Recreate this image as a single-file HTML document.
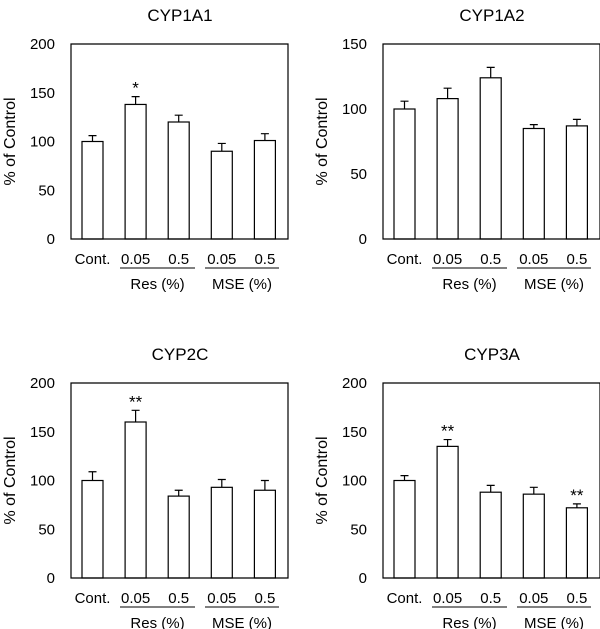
<!DOCTYPE html>
<html><head><meta charset="utf-8"><style>
html,body{margin:0;padding:0;background:#fff}
svg{display:block}
text{font-family:"Liberation Sans",Arial,sans-serif;fill:#000}
</style></head><body>
<svg id="fig" width="600" height="629" viewBox="0 0 600 629"></svg>
<script>
const categories = ["Cont.", "0.05", "0.5", "0.05", "0.5"];
const groupLabels = ["Res (%)", "MSE (%)"];
const titles = ["CYP1A1", "CYP1A2", "CYP2C", "CYP3A"];
const yMaxes = [200, 150, 200, 200];
const ticks200 = [0, 50, 100, 150, 200];
const ticks150 = [0, 50, 100, 150];
const means1A1 = [100, 138, 120, 90, 101];
const errs1A1 = [6, 8, 7, 8, 7];
const stars1A1 = ["", "*", "", "", ""];
const means1A2 = [100, 108, 124, 85, 87];
const errs1A2 = [6, 8, 8, 3, 5];
const stars1A2 = ["", "", "", "", ""];
const means2C = [100, 160, 84, 93, 90];
const errs2C = [9, 12, 6, 8, 10];
const stars2C = ["", "**", "", "", ""];
const means3A = [100, 135, 88, 86, 72];
const errs3A = [5, 7, 7, 7, 4];
const stars3A = ["", "**", "", "", "**"];

const NS = "http://www.w3.org/2000/svg";
const svg = document.getElementById("fig");
function mk(tag, attrs, parent, txt) {
  const e = document.createElementNS(NS, tag);
  for (const k in attrs) e.setAttribute(k, attrs[k]);
  if (txt !== undefined) e.textContent = txt;
  parent.appendChild(e);
  return e;
}
const panels = [
  {ox: 0, oy: 0, means: means1A1, errs: errs1A1, stars: stars1A1, ticks: ticks200},
  {ox: 312, oy: 0, means: means1A2, errs: errs1A2, stars: stars1A2, ticks: ticks150},
  {ox: 0, oy: 339, means: means2C, errs: errs2C, stars: stars2C, ticks: ticks200},
  {ox: 312, oy: 339, means: means3A, errs: errs3A, stars: stars3A, ticks: ticks200}
];
panels.forEach((p, pi) => {
  const g = mk("g", {transform: `translate(${p.ox},${p.oy})`}, svg);
  
  
  const L = 71, R = 288, T = 44, B = 239;
  const yMax = yMaxes[pi];
  const y = v => B - (v / yMax) * (B - T);
  const xc = i => 92.5 + i * 43.1;
  const t = mk("text", {x: 180, y: 21, "text-anchor": "middle", "font-size": 17}, g, titles[pi]);
  
  
  const yt = mk("text", {x: 0, y: 0, "text-anchor": "middle", "font-size": 16, transform: `translate(15,${(T + B) / 2}) rotate(-90)`}, g, "% of Control");
  
  
  p.ticks.forEach(tv => {
    const tl = mk("text", {x: 55, y: y(tv) + 5, "text-anchor": "end", "font-size": 15}, g, String(tv));
    
    
  });
  p.means.forEach((m, i) => {
    const bw = 21, cx = xc(i);
    const bar = mk("rect", {x: cx - bw / 2, y: y(m), width: bw, height: B - y(m), fill: "#fff", stroke: "#000", "stroke-width": 1.2}, g);
    
    
    const top = y(m + p.errs[i]);
    const eb = mk("path", {d: `M${cx},${y(m)}V${top}M${cx - 4},${top}H${cx + 4}`, stroke: "#000", "stroke-width": 1.2, fill: "none"}, g);
    
    
    if (p.stars[i]) {
      const s = mk("text", {x: cx, y: top - 3, "text-anchor": "middle", "font-size": 17, fill: "#333"}, g, p.stars[i]);
      
      
    }
    const cl = mk("text", {x: cx, y: 264, "text-anchor": "middle", "font-size": 15}, g, categories[i]);
    
    
  });
  const ax = mk("path", {d: `M${L},${T}H${R}V${B}H${L}Z`, stroke: "#000", "stroke-width": 1.2, fill: "none"}, g);
  
  
  [[120, 195], [205, 279]].forEach((r, k) => {
    const ln = mk("line", {x1: r[0], x2: r[1], y1: 268, y2: 268, stroke: "#000", "stroke-width": 1}, g);
    
    
    const gl = mk("text", {x: (r[0] + r[1]) / 2, y: 289, "text-anchor": "middle", "font-size": 15}, g, groupLabels[k]);
    
    
  });
});
</script>
</body></html>
